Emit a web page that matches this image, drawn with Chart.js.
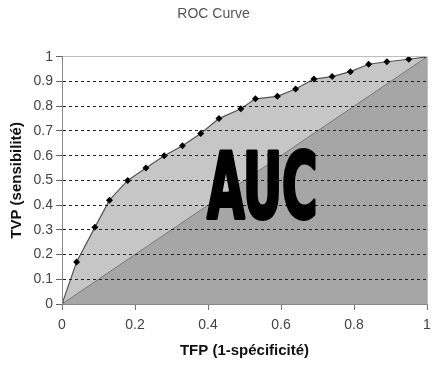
<!DOCTYPE html>
<html>
<head>
<meta charset="utf-8">
<script src="https://cdn.jsdelivr.net/npm/chart.js@4/dist/chart.umd.min.js"></script>
<style>
  html, body { margin: 0; padding: 0; background: #fff; }
  #wrap { width: 441px; height: 365px; }
</style>
</head>
<body>
<div id="wrap"><canvas id="roc"></canvas></div>
<script>
// courbe ROC
var tfp = [0, 0.04, 0.09, 0.13, 0.18, 0.23, 0.28, 0.33, 0.38, 0.43, 0.49, 0.53, 0.59, 0.64, 0.69, 0.74, 0.79, 0.84, 0.89, 0.95, 1];
var tvp = [0, 0.17, 0.31, 0.42, 0.50, 0.55, 0.60, 0.64, 0.69, 0.75, 0.79, 0.83, 0.84, 0.87, 0.91, 0.92, 0.94, 0.97, 0.98, 0.99, 1];

// diagonale (hasard)
var diagX = [0, 1];
var diagY = [0, 1];

var xTicks = [0, 0.2, 0.4, 0.6, 0.8, 1];
var yTicks = [0, 0.1, 0.2, 0.3, 0.4, 0.5, 0.6, 0.7, 0.8, 0.9, 1];

function toPoints(xs, ys) {
  return xs.map(function (v, i) { return { x: v, y: ys[i] }; });
}

function tickLabel(v) { return String(v); }

// le gros texte AUC au milieu
var aucLabel = {
  id: 'aucLabel',
  afterDraw: function (chart) {
    var ctx = chart.ctx, x = chart.scales.x, y = chart.scales.y;
    var left = x.getPixelForValue(0.398), right = x.getPixelForValue(0.70);
    var base = y.getPixelForValue(0.348), top = y.getPixelForValue(0.612);
    var h = base - top;
    ctx.save();
    ctx.font = 'bold ' + Math.round(h / 0.72) + 'px "Liberation Sans Narrow", "DejaVu Sans Condensed", sans-serif';
    var w = ctx.measureText('AUC').width;
    ctx.translate((left + right) / 2, base);
    ctx.scale((right - left) / w, 1);
    ctx.textAlign = 'center';
    ctx.textBaseline = 'alphabetic';
    ctx.fillStyle = '#000';
    ctx.strokeStyle = '#000';
    ctx.lineWidth = 4;
    ctx.lineJoin = 'round';
    ctx.strokeText('AUC', 0, 0);
    ctx.fillText('AUC', 0, 0);
    ctx.restore();
  }
};

var ctx1 = document.getElementById('roc').getContext('2d');
var roc = new Chart(ctx1, {
  type: 'scatter',
  data: {
    datasets: [{
      label: 'Diagonale',
      data: toPoints(diagX, diagY),
      showLine: true,
      borderColor: '#7a7a7a',
      borderWidth: 1,
      backgroundColor: 'rgb(166,166,166)',
      fill: 'origin',
      pointRadius: 0
    }, {
      label: 'ROC',
      data: toPoints(tfp, tvp),
      showLine: true,
      borderColor: '#555',
      borderWidth: 1.2,
      backgroundColor: 'rgb(198,198,198)',
      fill: 'origin',
      pointStyle: 'rectRot',
      pointRadius: 3.5,
      pointBackgroundColor: '#000',
      pointBorderColor: '#000',
      pointBorderWidth: 0
    }]
  },
  options: {
    responsive: true,
    maintainAspectRatio: false,
    animation: false,
    layout: { padding: { right: 14 } },
    plugins: {
      legend: { display: false },
      tooltip: { enabled: false },
      title: {
        display: true,
        text: 'ROC Curve',
        color: '#555',
        font: { family: 'Arial, "Liberation Sans", sans-serif', size: 14, weight: 'normal' },
        padding: { top: 6, bottom: 34 }
      }
    },
    scales: {
      x: {
        type: 'linear',
        min: 0, max: 1,
        afterBuildTicks: function (s) { s.ticks = xTicks.map(function (v) { return { value: v }; }); },
        afterFit: function (s) { s.height = 61; },
        ticks: {
          color: '#444',
          padding: 7,
          maxRotation: 0,
          callback: tickLabel,
          font: { family: 'Arial, "Liberation Sans", sans-serif', size: 14 }
        },
        grid: {
          z: 1,
          drawOnChartArea: true,
          color: function (c) { return c.tick && c.tick.value === 1 ? '#bdbdbd' : 'rgba(0,0,0,0)'; },
          tickColor: '#777',
          tickLength: 6
        },
        border: { color: '#888', width: 1, z: 1 },
        title: {
          display: true,
          text: 'TFP (1-spécificité)',
          color: '#111',
          font: { family: 'Arial, "Liberation Sans", sans-serif', size: 15, weight: 'bold' },
          padding: { top: 2, bottom: 5 }
        }
      },
      y: {
        type: 'linear',
        min: 0, max: 1,
        afterBuildTicks: function (s) { s.ticks = yTicks.map(function (v) { return { value: v }; }); },
        afterFit: function (s) { s.width = 62; },
        ticks: {
          color: '#444',
          padding: 3,
          callback: tickLabel,
          font: { family: 'Arial, "Liberation Sans", sans-serif', size: 14 }
        },
        grid: {
          z: 1,
          color: function (c) {
            if (!c.tick) return '#222';
            if (c.tick.value === 0) return 'rgba(0,0,0,0)';
            if (c.tick.value === 1) return '#bdbdbd';
            return '#222';
          },
          tickColor: '#666',
          tickLength: 6
        },
        border: {
          color: '#888',
          width: 1,
          z: 1,
          dash: function (c) { return c.tick && c.tick.value > 0 && c.tick.value < 1 ? [3, 3] : []; }
        },
        title: {
          display: true,
          text: 'TVP (sensibilité)',
          color: '#111',
          font: { family: 'Arial, "Liberation Sans", sans-serif', size: 15, weight: 'bold' },
          padding: { top: 8, bottom: 2 }
        }
      }
    }
  },
  plugins: [aucLabel]
});
</script>
</body>
</html>
